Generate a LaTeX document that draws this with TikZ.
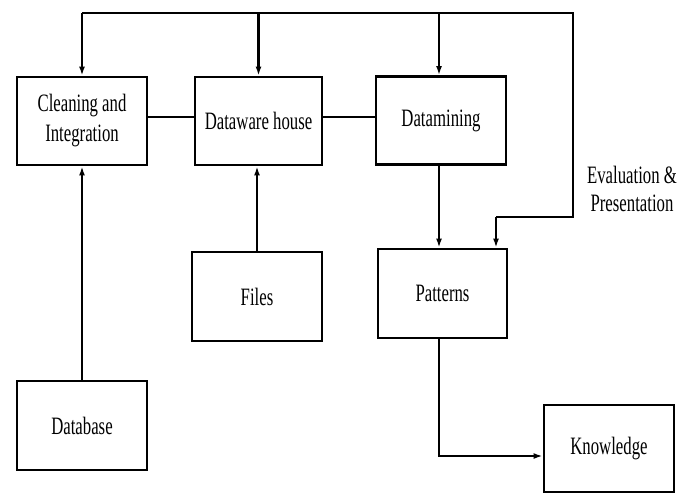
\documentclass[tikz,border=0pt]{standalone}
\usepackage{fontspec}
\setmainfont{Liberation Serif}
\usetikzlibrary{arrows.meta}
\newcommand{\cnd}[1]{\scalebox{0.67}[1]{#1}}
\begin{document}
\begin{tikzpicture}[x=1pt,y=-1pt,
  box/.style={draw, line width=2.8pt, minimum width=130pt, minimum height=88pt, inner sep=0pt,
    font=\fontsize{25}{30}\selectfont, align=center},
  arr/.style={line width=2.2pt, -{Latex[length=9pt,width=6pt]}},
  ln/.style={line width=2.2pt},
  lbl/.style={font=\fontsize{25}{28}\selectfont, align=center, inner sep=0pt}]
\useasboundingbox (0,0) rectangle (691,493);
\node[box] (clean) at (82,121) {\cnd{Cleaning and}\\\cnd{Integration}};
\node[box, minimum width=127pt] (dw) at (258.5,121) {\cnd{Dataware house}};
\node[box] (dm) at (441,120.5) {\cnd{Datamining}};
\node[box, minimum height=89pt] (files) at (257,296.5) {\cnd{Files}};
\node[box, minimum width=129pt, minimum height=89pt] (pat) at (442.5,293.5) {\cnd{Patterns}};
\node[box, minimum height=89pt] (db) at (82,425.5) {\cnd{Database}};
\node[box, minimum height=87pt] (kn) at (609,448.5) {\cnd{Knowledge}};
\node[lbl] (eval) at (632,189) {\cnd{Evaluation \&}\\\cnd{Presentation}};
\coordinate (tl) at (82,13);
\coordinate (tdw) at (258.5,13);
\coordinate (tdm) at (439,13);
\coordinate (tr) at (573,13);
\coordinate (br) at (573,217);
\coordinate (bp) at (496,217);
% top feedback line
\draw[ln] (tl) -- (tr) -- (br) -- (bp);
\draw[arr] (tl) -- (clean.north);
\draw[arr] (tdw) -- (dw.north);
\draw[arr] (tdm) -- (tdm |- dm.north);
\draw[arr] (bp) -- (bp |- pat.north);
% horizontal links
\draw[ln] ([yshift=4pt]clean.east) -- ([yshift=4pt]clean.east -| dw.west);
\draw[ln] ([yshift=4pt]dw.east) -- ([yshift=4pt]dw.east -| dm.west);
% upward arrows
\draw[arr] (db.north) -- (clean.south);
\draw[arr] (files.north) -- (files.north |- dw.south);
% datamining to patterns
\draw[arr] (tdm |- dm.south) -- (tdm |- pat.north);
% patterns to knowledge
\draw[arr] (tdm |- pat.south) |- ([yshift=-7.5pt]kn.west);
\end{tikzpicture}
\end{document}
